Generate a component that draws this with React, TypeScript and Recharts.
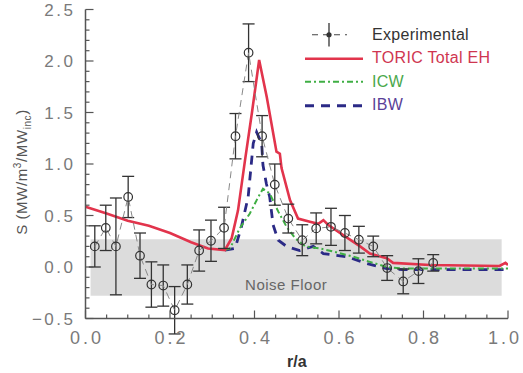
import {
  ComposedChart,
  Line,
  Scatter,
  ErrorBar,
  XAxis,
  YAxis,
  ReferenceArea,
  ReferenceDot,
  Legend,
} from "recharts";

// experimental points: r/a, S, error
const expX = [0.022, 0.048, 0.072, 0.101, 0.129, 0.156, 0.184, 0.211, 0.241, 0.269, 0.297, 0.328, 0.355, 0.386, 0.418, 0.448, 0.48, 0.513, 0.546, 0.581, 0.614, 0.647, 0.681, 0.714, 0.752, 0.788, 0.823];
const expY = [0.2, 0.38, 0.2, 0.68, 0.11, -0.17, -0.18, -0.42, -0.17, 0.16, 0.255, 0.38, 1.27, 2.08, 1.27, 0.8, 0.47, 0.26, 0.375, 0.39, 0.33, 0.265, 0.2, -0.01, -0.14, -0.04, 0.04];
const expErr = [0.2, 0.22, 0.47, 0.2, 0.22, 0.22, 0.2, 0.23, 0.19, 0.2, 0.2, 0.2, 0.22, 0.28, 0.2, 0.2, 0.14, 0.15, 0.15, 0.18, 0.17, 0.13, 0.1, 0.12, 0.12, 0.12, 0.08];

// TORIC total electron heating
const toricX = [0, 0.05, 0.1, 0.15, 0.2, 0.25, 0.29, 0.33, 0.346, 0.361, 0.377, 0.394, 0.411, 0.429, 0.452, 0.46, 0.464, 0.484, 0.503, 0.531, 0.551, 0.563, 0.574, 0.61, 0.65, 0.673, 0.713, 0.728, 0.815, 0.98, 0.994, 1.0];
const toricY = [0.585, 0.52, 0.45, 0.4, 0.33, 0.24, 0.18, 0.165, 0.28, 0.55, 1.02, 1.5, 2.01, 1.65, 1.12, 1.1, 0.96, 0.65, 0.47, 0.44, 0.42, 0.455, 0.41, 0.31, 0.2, 0.13, 0.085, 0.04, 0.02, 0.01, 0.04, 0.02];

// ICW component
const icwX = [0.33, 0.342, 0.365, 0.389, 0.409, 0.42, 0.436, 0.456, 0.476, 0.496, 0.52, 0.555, 0.586, 0.634, 0.673, 0.713, 0.75, 1.0];
const icwY = [0.165, 0.18, 0.375, 0.52, 0.68, 0.76, 0.715, 0.54, 0.39, 0.28, 0.2, 0.18, 0.15, 0.1, 0.05, 0.0, -0.015, -0.015];

// IBW component
const ibwX = [0.33, 0.354, 0.369, 0.385, 0.397, 0.405, 0.417, 0.42, 0.428, 0.436, 0.444, 0.456, 0.476, 0.507, 0.539, 0.563, 0.618, 0.665, 0.713, 0.75, 1.0];
const ibwY = [0.165, 0.18, 0.39, 0.68, 1.2, 1.31, 1.2, 0.99, 0.81, 0.68, 0.41, 0.26, 0.2, 0.16, 0.2, 0.13, 0.1, 0.035, -0.015, -0.025, -0.025];

const xTicks = [0, 0.05, 0.1, 0.15, 0.2, 0.25, 0.3, 0.35, 0.4, 0.45, 0.5, 0.55, 0.6, 0.65, 0.7, 0.75, 0.8, 0.85, 0.9, 0.95, 1];
const xMajor = [0, 0.2, 0.4, 0.6, 0.8, 1];
const yTicks = [-0.5, -0.4, -0.3, -0.2, -0.1, 0, 0.1, 0.2, 0.3, 0.4, 0.5, 0.6, 0.7, 0.8, 0.9, 1, 1.1, 1.2, 1.3, 1.4, 1.5, 1.6, 1.7, 1.8, 1.9, 2, 2.1, 2.2, 2.3, 2.4, 2.5];
const yMajor = [-0.5, 0, 0.5, 1, 1.5, 2, 2.5];

const noiseFloor = { x1: 0.012, x2: 0.985, y1: -0.28, y2: 0.27 };

const expData = expX.map((x, i) => ({ x, y: expY[i], err: expErr[i] }));
const toricData = toricX.map((x, i) => ({ x, y: toricY[i] }));
const icwData = icwX.map((x, i) => ({ x, y: icwY[i] }));
const ibwData = ibwX.map((x, i) => ({ x, y: ibwY[i] }));

const W = 523;
const AXIS = "#555";
const TICK_TEXT = "#7a7a7a";
const RED = "#e2344c";
const GREEN = "#3fae44";
const BLUE = "#2b2a86";
const FONT = "'Liberation Sans', Arial, sans-serif";

const fmt = (v: number) => (v < 0 ? "\u2212" + Math.abs(v).toFixed(1) : v.toFixed(1));

function BottomTick({ x, y, payload }: any) {
  const major = xMajor.includes(payload.value);
  // keep the last label inside the picture
  const tx = Math.min(x + 1.5, W - 18);
  return (
    <g>
      <line x1={x} x2={x} y1={y} y2={y - (major ? 8 : 4)} stroke={AXIS} strokeWidth={1.2} />
      {major && (
        <text x={tx} y={y + 25} textAnchor="middle" fontSize={18} letterSpacing={3} fill={TICK_TEXT} fontFamily={FONT}>
          {fmt(payload.value)}
        </text>
      )}
    </g>
  );
}

function TopTick({ x, y, payload }: any) {
  const major = xMajor.includes(payload.value);
  return <line x1={x} x2={x} y1={y} y2={y + (major ? 8 : 4)} stroke={AXIS} strokeWidth={1.2} />;
}

function LeftTick({ x, y, payload }: any) {
  const major = yMajor.includes(payload.value);
  return (
    <g>
      <line x1={x} x2={x + (major ? 8 : 4)} y1={y} y2={y} stroke={AXIS} strokeWidth={1.2} />
      {major && (
        <text x={x - 10} y={y} dy="0.36em" textAnchor="end" fontSize={17} letterSpacing={2.5} fill={TICK_TEXT} fontFamily={FONT}>
          {fmt(payload.value)}
        </text>
      )}
    </g>
  );
}

function RightTick({ x, y, payload }: any) {
  const major = yMajor.includes(payload.value);
  return <line x1={x} x2={x - (major ? 8 : 4)} y1={y} y2={y} stroke={AXIS} strokeWidth={1.2} />;
}

function YTitle(props: any) {
  const vb = props.viewBox || { x: 0, y: 9.5, width: 85.5, height: 309 };
  const cx = vb.x + 27;
  const cy = vb.y + vb.height / 2 + 8;
  return (
    <text
      x={cx}
      y={cy}
      transform={`rotate(-90, ${cx}, ${cy})`}
      textAnchor="middle"
      fontSize={15}
      letterSpacing={0.6}
      fill="#555"
      fontFamily={FONT}
    >
      <tspan>S (MW/m</tspan>
      <tspan dy={-6} fontSize={10}>3</tspan>
      <tspan dy={6}>/MW</tspan>
      <tspan dy={4} fontSize={10}>inc</tspan>
      <tspan dy={-4}>)</tspan>
    </text>
  );
}

function XTitle(props: any) {
  const vb = props.viewBox || { x: 85.5, y: 318.5, width: 422.5, height: 54.5 };
  return (
    <text x={vb.x + vb.width / 2} y={vb.y + 48} textAnchor="middle" fontSize={16} fontWeight="bold" fill="#333" fontFamily={FONT}>
      r/a
    </text>
  );
}

const legendItems = [
  { name: "Experimental", kind: "exp", color: "#333", text: "#333" },
  { name: "TORIC Total EH", kind: "solid", color: RED, text: "#cf3650" },
  { name: "ICW", kind: "dashdot", color: GREEN, text: "#4aa84c" },
  { name: "IBW", kind: "dash", color: BLUE, text: "#5a3f98" },
];

function LegendBox() {
  return (
    <div style={{ fontFamily: FONT }}>
      {legendItems.map((it) => (
        <div key={it.name} style={{ display: "flex", alignItems: "center", height: 23.5 }}>
          <svg width={69} height={23.5} style={{ display: "block" }}>
            {it.kind === "exp" && (
              <g>
                <line x1={9} x2={44} y1={11.75} y2={11.75} stroke="#444" strokeWidth={1.2} strokeDasharray="6 5" />
                <line x1={26} x2={26} y1={0} y2={23.5} stroke="#333" strokeWidth={1.3} />
                <circle cx={26} cy={11.75} r={2.6} fill="#333" />
              </g>
            )}
            {it.kind === "solid" && <line x1={2} x2={60} y1={11.75} y2={11.75} stroke={it.color} strokeWidth={2.6} />}
            {it.kind === "dashdot" && (
              <line x1={2} x2={60} y1={11.75} y2={11.75} stroke={it.color} strokeWidth={2} strokeDasharray="6 3 2 3" />
            )}
            {it.kind === "dash" && (
              <line x1={2} x2={60} y1={11.75} y2={11.75} stroke={it.color} strokeWidth={2.8} strokeDasharray="9 7" />
            )}
          </svg>
          <span style={{ color: it.text, fontSize: 16, letterSpacing: 0.3 }}>{it.name}</span>
        </div>
      ))}
    </div>
  );
}

function OpenCircle({ cx, cy }: any) {
  if (cx == null || cy == null) return null;
  return <circle cx={cx} cy={cy} r={4.3} fill="none" stroke="#333" strokeWidth={1.2} />;
}

export default function App() {
  return (
    <div style={{ position: "absolute", left: 0, top: 0, width: W, height: 373, background: "#fff" }}>
      <ComposedChart width={W} height={373} margin={{ top: 9.5, right: 15, bottom: 0, left: 0 }}>
        <XAxis
          dataKey="x"
          type="number"
          domain={[0, 1]}
          ticks={xTicks}
          interval={0}
          height={54.5}
          tickSize={0}
          tickMargin={0}
          tickLine={false}
          tick={BottomTick}
          axisLine={{ stroke: AXIS, strokeWidth: 1.5 }}
          allowDataOverflow
          label={<XTitle />}
        />
        <XAxis
          xAxisId="top"
          orientation="top"
          dataKey="x"
          type="number"
          domain={[0, 1]}
          ticks={xTicks}
          interval={0}
          height={0}
          tickSize={0}
          tickMargin={0}
          tickLine={false}
          tick={TopTick}
          axisLine={{ stroke: AXIS, strokeWidth: 1.5 }}
        />
        <YAxis
          type="number"
          domain={[-0.5, 2.5]}
          ticks={yTicks}
          interval={0}
          width={85.5}
          tickSize={0}
          tickMargin={0}
          tickLine={false}
          tick={LeftTick}
          axisLine={{ stroke: AXIS, strokeWidth: 1.5 }}
          allowDataOverflow
          label={<YTitle />}
        />
        <YAxis
          yAxisId="right"
          orientation="right"
          type="number"
          domain={[-0.5, 2.5]}
          ticks={yTicks}
          interval={0}
          width={0}
          tickSize={0}
          tickMargin={0}
          tickLine={false}
          tick={RightTick}
          axisLine={{ stroke: AXIS, strokeWidth: 1.5 }}
        />
        <ReferenceArea
          x1={noiseFloor.x1}
          x2={noiseFloor.x2}
          y1={noiseFloor.y1}
          y2={noiseFloor.y2}
          fill="#dcdcdc"
          fillOpacity={1}
          stroke="none"
        />
        <ReferenceDot
          x={0.475}
          y={-0.175}
          r={0}
          stroke="none"
          fill="none"
          label={{ value: "Noise Floor", position: "center", fill: "#666", fontSize: 15, fontFamily: FONT, letterSpacing: 0.5 }}
        />
        <Line
          data={ibwData}
          dataKey="y"
          type="linear"
          stroke={BLUE}
          strokeWidth={2.8}
          strokeDasharray="9 7"
          dot={false}
          isAnimationActive={false}
        />
        <Line
          data={icwData}
          dataKey="y"
          type="linear"
          stroke={GREEN}
          strokeWidth={2}
          strokeDasharray="6 3 2 3"
          dot={false}
          isAnimationActive={false}
        />
        <Line
          data={toricData}
          dataKey="y"
          type="linear"
          stroke={RED}
          strokeWidth={2.6}
          dot={false}
          isAnimationActive={false}
        />
        <Scatter
          data={expData}
          dataKey="y"
          shape={<OpenCircle />}
          line={{ stroke: "#888", strokeWidth: 1, strokeDasharray: "7 5" }}
          isAnimationActive={false}
        >
          <ErrorBar dataKey="err" direction="y" width={6} stroke="#333" strokeWidth={1.3} />
        </Scatter>
        <Legend
          layout="horizontal"
          verticalAlign="middle"
          align="center"
          content={<LegendBox />}
          wrapperStyle={{ left: 303, top: 23, width: 220, height: 94 }}
        />
      </ComposedChart>
    </div>
  );
}
